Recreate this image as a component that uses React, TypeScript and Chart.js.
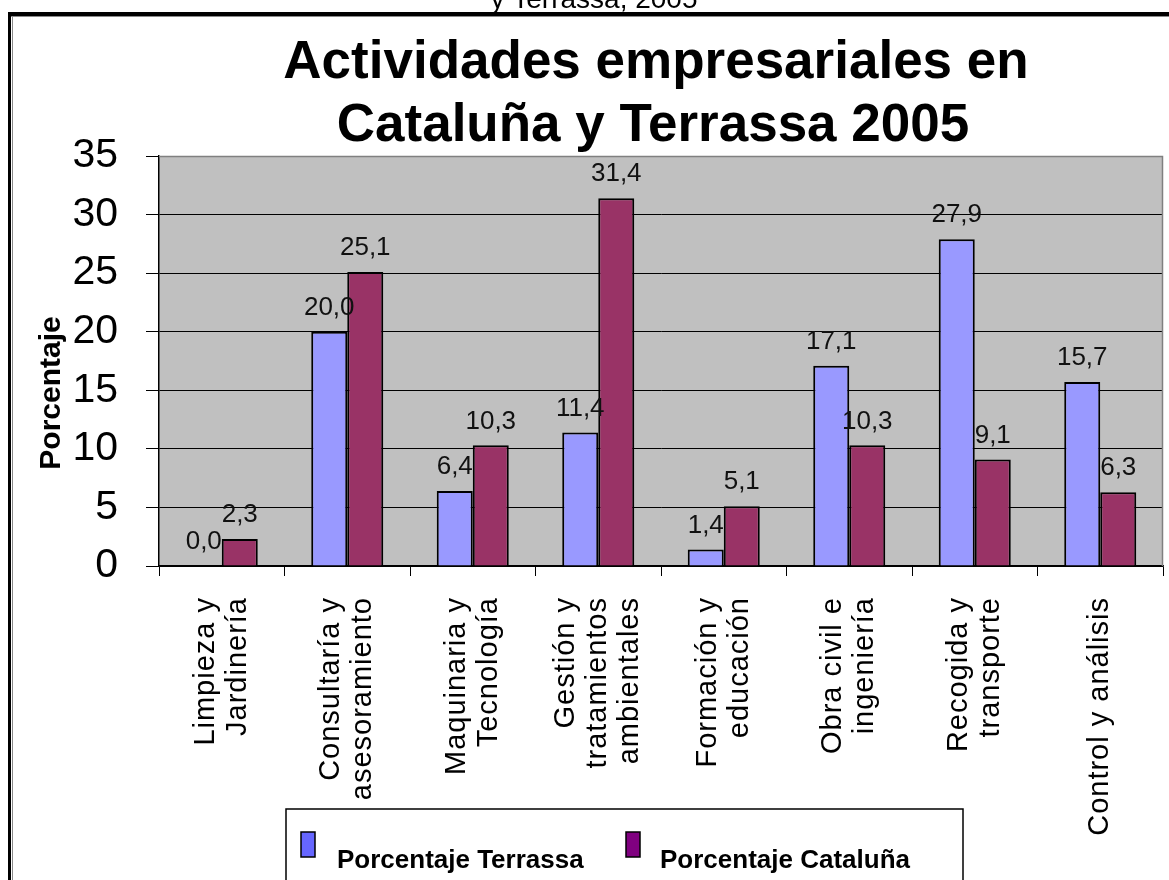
import React, { useEffect, useRef } from "react";
import { Chart, registerables } from "chart.js";

Chart.register(...registerables);

const categories: string[][] = [
  ["Limpieza y", "Jardinería"],
  ["Consultaría y", "asesoramiento"],
  ["Maquinaria y", "Tecnología"],
  ["Gestión y", "tratamientos", "ambientales"],
  ["Formación y", "educación"],
  ["Obra civil e", "ingeniería"],
  ["Recogida y", "transporte"],
  ["Control y análisis"],
];
const terrassa = [0.0, 20.0, 6.4, 11.4, 1.4, 17.1, 27.9, 15.7];
const cataluna = [2.3, 25.1, 10.3, 31.4, 5.1, 10.3, 9.1, 6.3];
const seriesNames = ["Porcentaje Terrassa", "Porcentaje Cataluña"];
const titleLines = ["Actividades empresariales en", "Cataluña y Terrassa 2005"];
const captionText = "y Terrassa, 2005";
const yAxisTitle = "Porcentaje";
const yMin = 0;
const yMax = 35;
const yStep = 5;

const FONT = '"Liberation Sans", Arial, Helvetica, sans-serif';
const BAR_COLORS = ["#9999FF", "#993366"];
const LEGEND_COLORS = ["#6666FF", "#800080"];

const fmt = (v: number) => v.toFixed(1).replace(".", ",");

const decorPlugin = {
  id: "decor",
  beforeDraw(chart: any) {
    const { ctx, chartArea: a } = chart;
    ctx.save();
    ctx.fillStyle = "#FFFFFF";
    ctx.fillRect(0, 0, chart.width, chart.height);
    ctx.fillStyle = "#C0C0C0";
    ctx.fillRect(a.left, a.top, a.right - a.left, a.bottom - a.top);
    ctx.restore();
  },
  afterDraw(chart: any) {
    const { ctx, chartArea: a } = chart;
    const xScale = chart.scales.x;
    ctx.save();

    // plot area gray border (top & right)
    ctx.strokeStyle = "#808080";
    ctx.lineWidth = 1.5;
    ctx.beginPath();
    ctx.moveTo(a.left, a.top + 0.5);
    ctx.lineTo(a.right - 0.5, a.top + 0.5);
    ctx.lineTo(a.right - 0.5, a.bottom);
    ctx.stroke();

    // outer frame (document border)
    ctx.fillStyle = "#000";
    ctx.fillRect(8, 12, chart.width - 8, 4);
    ctx.fillRect(8, 12, 3, chart.height - 12);
    ctx.fillStyle = "#8a8a8a";
    ctx.fillRect(11, 16, chart.width - 11, 1);
    ctx.fillRect(12, 16, 1, chart.height - 16);

    // caption (cut off at top)
    ctx.fillStyle = "#000";
    ctx.font = `28px ${FONT}`;
    ctx.textAlign = "center";
    ctx.textBaseline = "alphabetic";
    ctx.fillText(captionText, 594, 8);

    // title
    ctx.font = `bold 53px ${FONT}`;
    ctx.fillText(titleLines[0], 656, 78);
    ctx.fillText(titleLines[1], 653, 141);

    // y-axis title
    ctx.save();
    ctx.translate(52, 393);
    ctx.rotate(-Math.PI / 2);
    ctx.font = `bold 30px ${FONT}`;
    ctx.textAlign = "center";
    ctx.textBaseline = "middle";
    ctx.fillText(yAxisTitle, 0, 0);
    ctx.restore();

    // x category labels (rotated, multi-line)
    ctx.font = `29px ${FONT}`;
    try { (ctx as any).letterSpacing = "1px"; } catch (e) {}
    categories.forEach((lines, i) => {
      const cx = xScale.getPixelForValue(i);
      const gap = 32;
      lines.forEach((line, j) => {
        const off = (j - (lines.length - 1) / 2) * gap;
        ctx.save();
        ctx.translate(cx + off, a.bottom + 31);
        ctx.rotate(-Math.PI / 2);
        ctx.textAlign = "right";
        ctx.textBaseline = "middle";
        ctx.fillText(line, 0, 0);
        ctx.restore();
      });
    });
    try { (ctx as any).letterSpacing = "0px"; } catch (e) {}

    // data labels
    ctx.font = `26px ${FONT}`;
    ctx.fillStyle = "#111";
    ctx.textAlign = "center";
    ctx.textBaseline = "middle";
    chart.data.datasets.forEach((ds: any, di: number) => {
      const meta = chart.getDatasetMeta(di);
      meta.data.forEach((el: any, i: number) => {
        ctx.fillText(fmt(ds.data[i]), el.x, el.y - 24);
      });
    });

    // legend
    ctx.strokeStyle = "#000";
    ctx.lineWidth = 1.5;
    ctx.strokeRect(286, 809, 677, 120);
    const markers = [
      { x: 301, tx: 337 },
      { x: 626, tx: 660 },
    ];
    markers.forEach((m, k) => {
      ctx.fillStyle = LEGEND_COLORS[k];
      ctx.fillRect(m.x, 832, 14, 25);
      ctx.strokeStyle = "#000";
      ctx.lineWidth = 1.5;
      ctx.strokeRect(m.x, 832, 14, 25);
      ctx.fillStyle = "#000";
      ctx.font = `bold 26px ${FONT}`;
      ctx.textAlign = "left";
      ctx.textBaseline = "alphabetic";
      ctx.fillText(seriesNames[k], m.tx, 868);
    });

    ctx.restore();
  },
};

export default function App() {
  const ref = useRef<HTMLCanvasElement | null>(null);

  useEffect(() => {
    if (!ref.current) return;
    const chart = new Chart(ref.current, {
      type: "bar",
      data: {
        labels: categories.map((c) => c.join(" ")),
        datasets: [
          {
            label: seriesNames[0],
            data: terrassa,
            backgroundColor: BAR_COLORS[0],
            borderColor: "#000",
            borderWidth: 2,
          },
          {
            label: seriesNames[1],
            data: cataluna,
            backgroundColor: BAR_COLORS[1],
            borderColor: "#000",
            borderWidth: 2,
          },
        ],
      },
      options: {
        responsive: false,
        animation: false,
        events: [],
        layout: { padding: { top: 156, right: 6, bottom: 0, left: 0 } },
        datasets: {
          bar: { categoryPercentage: 0.574, barPercentage: 1 },
        },
        plugins: {
          legend: { display: false },
          title: { display: false },
          tooltip: { enabled: false },
        },
        scales: {
          x: {
            ticks: { display: false },
            grid: {
              drawOnChartArea: false,
              drawTicks: true,
              tickLength: 10,
              color: "#000",
              lineWidth: 1,
              offset: true,
            },
            border: { color: "#000", width: 1.5 },
            afterFit: (s: any) => {
              s.height = 314;
            },
          },
          y: {
            min: yMin,
            max: yMax,
            ticks: {
              stepSize: yStep,
              padding: 28,
              color: "#000",
              font: { family: FONT, size: 41 },
            },
            grid: {
              color: "#000",
              lineWidth: 1,
              drawTicks: true,
              tickLength: 13,
            },
            border: { color: "#000", width: 1.5 },
            afterFit: (s: any) => {
              s.width = 159;
            },
          },
        },
      },
      plugins: [decorPlugin],
    });
    return () => chart.destroy();
  }, []);

  return (
    <div style={{ position: "absolute", left: 0, top: 0, width: 1169, height: 880 }}>
      <canvas ref={ref} width={1169} height={880} style={{ width: 1169, height: 880, display: "block" }} />
    </div>
  );
}
